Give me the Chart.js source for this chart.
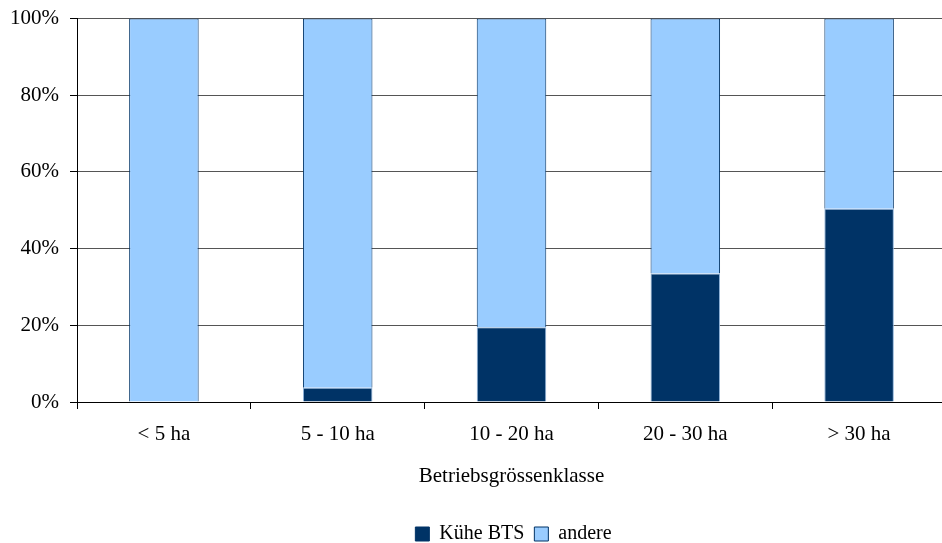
<!DOCTYPE html>
<html>
<head>
<meta charset="utf-8">
<script src="https://cdn.jsdelivr.net/npm/chart.js@4.4.1/dist/chart.umd.min.js"></script>
<style>
    html, body { margin: 0; padding: 0; background: #fff; overflow: hidden; }
    #wrap { width: 946px; height: 554px; position: relative; }
</style>
</head>
<body>
<div id="wrap"><canvas id="betriebChart"></canvas></div>
<script>
"use strict";
var categories = ["< 5 ha", "5 - 10 ha", "10 - 20 ha", "20 - 30 ha", "> 30 ha"];
var kueheBts = [0, 3.7, 19.5, 33.5, 50.4];
var andere = [100, 96.3, 80.5, 66.5, 49.6];
var yTicks = [0, 20, 40, 60, 80, 100];

var fontFamily = "'Liberation Serif', 'Times New Roman', serif";
Chart.defaults.font.family = fontFamily;
Chart.defaults.font.size = 21;
Chart.defaults.color = "#000";

// center the legend under the plot area instead of the whole canvas
var legendUnderPlot = {
    id: "legendUnderPlot",
    beforeDraw: function (chart) {
        if (chart.legend) {
            chart.legend.left = chart.chartArea.left + 4;
        }
    }
};

var ctx = document.getElementById("betriebChart");
var data = {
    labels: categories,
    datasets: [{
        label: "Kühe BTS",
        data: kueheBts,
        backgroundColor: "#003366",
        borderColor: "#8fb3d9",
        borderWidth: 1,
        barPercentage: 0.8,
        categoryPercentage: 0.5
    }, {
        label: "andere",
        data: andere,
        backgroundColor: "#99CCFF",
        borderColor: "#003366",
        borderWidth: 1,
        barPercentage: 0.8,
        categoryPercentage: 0.5
    }]
};

var myBarChart = new Chart(ctx, {
    type: 'bar',
    data: data,
    plugins: [legendUnderPlot],
    options: {
        responsive: true,
        maintainAspectRatio: false,
        animation: false,
        layout: { padding: { top: 18.5, left: 0, right: 0, bottom: 0 } },
        plugins: {
            tooltip: { enabled: false },
            legend: {
                position: 'bottom',
                labels: {
                    font: { family: fontFamily, size: 20 },
                    color: "#000",
                    boxWidth: 14,
                    boxHeight: 14,
                    padding: 10,
                    generateLabels: function (chart) {
                        return chart.data.datasets.map(function (ds, i) {
                            return {
                                text: ds.label,
                                fillStyle: ds.backgroundColor,
                                strokeStyle: i === 0 ? ds.backgroundColor : "#003366",
                                lineWidth: 1,
                                datasetIndex: i,
                                fontColor: "#000"
                            };
                        });
                    }
                }
            }
        },
        scales: {
            x: {
                stacked: true,
                afterFit: function (scale) { scale.height = 112; },
                border: { color: "#000", width: 1 },
                grid: { drawOnChartArea: false, tickLength: 7, color: "#000" },
                ticks: { font: { family: fontFamily, size: 21 }, color: "#000", padding: 13, maxRotation: 0 },
                title: {
                    display: true,
                    text: "Betriebsgrössenklasse",
                    font: { family: fontFamily, size: 21 },
                    color: "#000",
                    padding: { top: 0, bottom: 24.5 }
                }
            },
            y: {
                stacked: true,
                min: 0,
                max: 100,
                afterFit: function (scale) {
                    scale.width = 77;
                    scale.paddingTop = 0;
                    scale.paddingBottom = 0;
                },
                afterBuildTicks: function (scale) {
                    scale.ticks = yTicks.map(function (v) { return { value: v }; });
                },
                border: { color: "#000", width: 1 },
                grid: { color: "#555", tickLength: 7, tickColor: "#000" },
                ticks: {
                    font: { family: fontFamily, size: 21 },
                    color: "#000",
                    padding: 11,
                    callback: function (value) { return value + "%"; }
                }
            }
        }
    }
});
</script>
</body>
</html>
